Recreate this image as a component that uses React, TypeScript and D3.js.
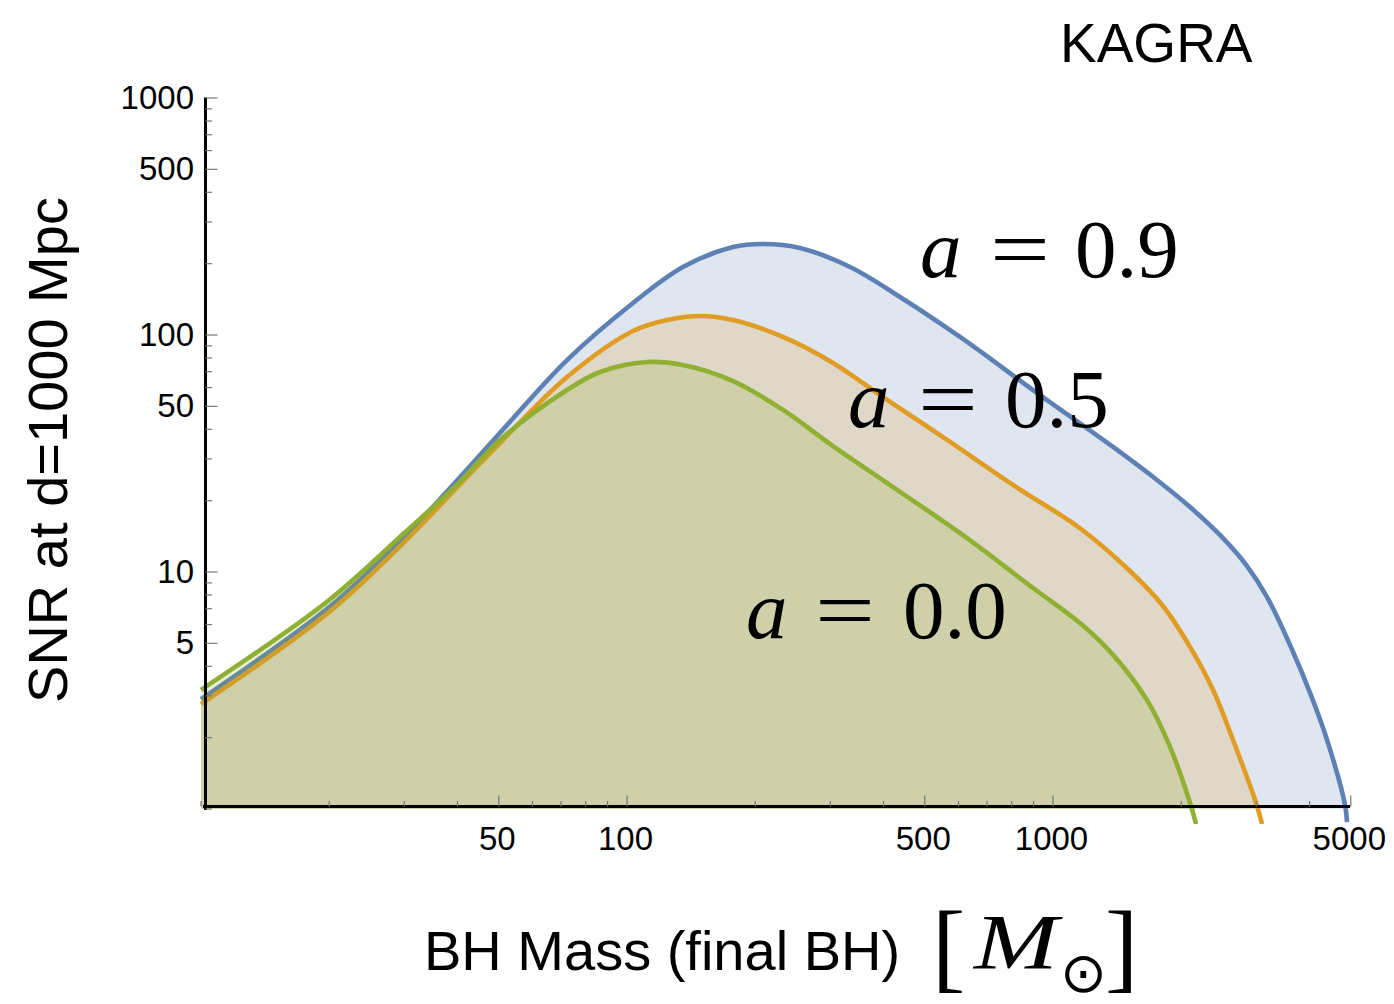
import React from "react";
import * as d3 from "d3";

// Final black-hole mass [solar masses] and SNR at 1000 Mpc, one pair of arrays per spin
const MASS_A09 = [10, 20, 30, 40, 50.3, 72.3, 103.3, 135.3, 177.4, 208.6, 254.7, 333.9, 437.4, 604.9, 897.7, 1383, 1754, 2097, 2506, 2854, 3180, 3600, 4012, 4398, 4847, 4898];
const SNR_A09 = [2.91, 7.12, 14.05, 24.45, 38.6, 78.4, 136.5, 193.6, 235, 242, 233, 193.6, 144.7, 98.1, 58.6, 33.7, 24.45, 18.8, 13.9, 10.6, 7.84, 4.92, 3.09, 1.955, 1.04, 0.88];

const MASS_A05 = [10, 20, 30, 40, 50.3, 72.3, 103.3, 124.1, 148.4, 177.4, 232.4, 304.5, 399, 573.3, 805.6, 1157, 1516, 1812, 2097, 2375, 2646, 3012, 3095];
const SNR_A05 = [2.77, 6.78, 13.38, 22.84, 35.0, 66.5, 104, 115.7, 120.3, 115.7, 98.1, 76.2, 54.7, 35.4, 23.3, 15.3, 10.1, 7.19, 4.83, 3.18, 1.955, 1.03, 0.864];

const MASS_A00 = [10, 20, 30, 40, 50.3, 72.3, 86.4, 111.4, 135.3, 177.4, 232.4, 304.5, 437.4, 628.3, 897.7, 1157, 1383, 1662, 1882, 2108, 2166];
const SNR_A00 = [3.18, 7.62, 14.6, 23.5, 36.1, 58.6, 69.8, 76.9, 74.7, 63.9, 48.3, 34.0, 21.8, 13.9, 8.56, 6.09, 4.47, 2.88, 1.83, 1.03, 0.864];

const SPINS = ["0.9", "0.5", "0.0"];

// Axis ticks
const X_MAJOR = [50, 100, 500, 1000, 5000];
const X_MINOR = [10, 20, 30, 40, 60, 70, 80, 90, 200, 300, 400, 600, 700, 800, 900, 2000, 3000, 4000];
const Y_MAJOR = [5, 10, 50, 100, 500, 1000];
const Y_MINOR = [1, 2, 3, 4, 6, 7, 8, 9, 20, 30, 40, 60, 70, 80, 90, 200, 300, 400, 600, 700, 800, 900];

const W = 1394;
const H = 1004;

const x = d3.scaleLog().domain([10, 5000]).range([201, 1350.8]);
const y = d3.scaleLog().domain([1, 1000]).range([809, 98]);

const AXIS_X = 205.5;
const AXIS_Y = 806.5;

const SANS = "'Liberation Sans', Arial, Helvetica, sans-serif";
const SERIF = "'Liberation Serif', 'Times New Roman', serif";

const series = [
  { mass: MASS_A09, snr: SNR_A09, color: "#5E81B5" },
  { mass: MASS_A05, snr: SNR_A05, color: "#E19C24" },
  { mass: MASS_A00, snr: SNR_A00, color: "#8FB032" },
];

// layout of the spin annotations: italic a, equals sign, value
const spinLabels = [
  { text: SPINS[0], ax: 920, eqx: 990, numx: 1075, base: 277 },
  { text: SPINS[1], ax: 848, eqx: 918, numx: 1005, base: 427 },
  { text: SPINS[2], ax: 746, eqx: 815, numx: 903, base: 638 },
];

type Pt = { m: number; s: number };

const curve = d3.curveCatmullRom.alpha(0.5);

const line = d3
  .line<Pt>()
  .x((d) => x(d.m))
  .y((d) => y(d.s))
  .curve(curve);

const area = d3
  .area<Pt>()
  .x((d) => x(d.m))
  .y0(y(1))
  .y1((d) => y(d.s))
  .curve(curve);

export default function App() {
  const fmt = (v: number) => String(v);
  return (
    <svg
      width={W}
      height={H}
      viewBox={`0 0 ${W} ${H}`}
      style={{ position: "absolute", left: 0, top: 0, background: "#fff" }}
    >
      <defs>
        <clipPath id="fillClip">
          <rect x={199} y={90} width={1152} height={720} />
        </clipPath>
        <clipPath id="lineClip">
          <rect x={199} y={90} width={1152} height={734} />
        </clipPath>
      </defs>

      {series.map((s, i) => {
        const pts: Pt[] = s.mass.map((m, j) => ({ m, s: s.snr[j] }));
        return (
          <g key={i}>
            <path d={area(pts) || ""} fill={s.color} fillOpacity={0.2} clipPath="url(#fillClip)" />
            <path
              d={line(pts) || ""}
              fill="none"
              stroke={s.color}
              strokeWidth={4.6}
              strokeLinejoin="round"
              clipPath="url(#lineClip)"
            />
          </g>
        );
      })}

      {/* axes */}
      <line x1={AXIS_X} x2={AXIS_X} y1={97.5} y2={810} stroke="#000" strokeWidth={3} />
      <line x1={203} x2={1350} y1={AXIS_Y} y2={AXIS_Y} stroke="#000" strokeWidth={3} />

      {Y_MAJOR.map((v) => (
        <g key={"ym" + v}>
          <line x1={AXIS_X} x2={AXIS_X + 12} y1={y(v)} y2={y(v)} stroke="#777" strokeWidth={1.2} />
          <text x={194} y={y(v) + 11} textAnchor="end" fontFamily={SANS} fontSize={33} fill="#000">
            {fmt(v)}
          </text>
        </g>
      ))}
      {Y_MINOR.map((v) => (
        <line key={"yn" + v} x1={AXIS_X} x2={AXIS_X + 6.5} y1={y(v)} y2={y(v)} stroke="#777" strokeWidth={1.2} />
      ))}

      {X_MAJOR.map((v) => (
        <g key={"xm" + v}>
          <line x1={x(v)} x2={x(v)} y1={AXIS_Y} y2={AXIS_Y - 11} stroke="#777" strokeWidth={1.2} />
          <text x={x(v) - 1.5} y={850} textAnchor="middle" fontFamily={SANS} fontSize={33} fill="#000">
            {fmt(v)}
          </text>
        </g>
      ))}
      {X_MINOR.map((v) => (
        <line key={"xn" + v} x1={x(v)} x2={x(v)} y1={AXIS_Y} y2={AXIS_Y - 5.5} stroke="#777" strokeWidth={1.2} />
      ))}

      {/* spin annotations */}
      {spinLabels.map((l) => (
        <g key={l.text} fontFamily={SERIF} fontSize={83} fill="#000">
          <text x={l.ax} y={l.base} fontStyle="italic">a</text>
          <text x={l.eqx} y={l.base} textLength={60} lengthAdjust="spacingAndGlyphs">=</text>
          <text x={l.numx} y={l.base}>{l.text}</text>
        </g>
      ))}

      {/* detector name */}
      <text x={1060} y={62} fontFamily={SANS} fontSize={55} fill="#000">KAGRA</text>

      {/* axis titles */}
      <text
        transform={`translate(67, 450) rotate(-90)`}
        textAnchor="middle"
        fontFamily={SANS}
        fontSize={56}
        fill="#000"
      >
        SNR at d=1000 Mpc
      </text>
      <text x={424} y={970} fontFamily={SANS} fontSize={56} fill="#000">
        BH Mass (final BH)
      </text>
      <g fontFamily={SERIF} fill="#000">
        <text x={932} y={980} fontSize={100}>[</text>
        <text x={974} y={968} fontSize={78} fontStyle="italic" textLength={84} lengthAdjust="spacingAndGlyphs">M</text>
        <text x={1060} y={992} fontSize={56} fontFamily="'DejaVu Sans', sans-serif">⊙</text>
        <text x={1105} y={980} fontSize={100}>]</text>
      </g>
    </svg>
  );
}
